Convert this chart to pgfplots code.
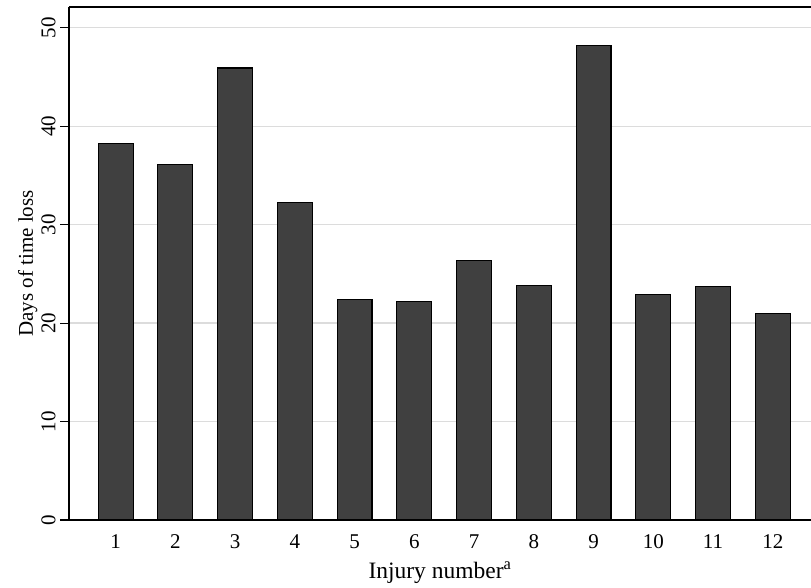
\documentclass[border=0pt]{standalone}
\usepackage{fontspec}
\setmainfont{Liberation Serif}
\usepackage{pgfplots}
\pgfplotsset{compat=1.18}
\definecolor{barfill}{HTML}{404040}
\definecolor{gridgray}{HTML}{DCDCDC}
\begin{document}
\begin{tikzpicture}
\begin{axis}[
  scale only axis,
  width=742pt, height=513pt,
  xmin=0.22, xmax=12.64,
  ymin=0, ymax=52.1,
  axis x line*=bottom,
  axis y line*=left,
  axis line style={line width=1.3pt, black},
  xtick={1,...,12},
  ytick={0,10,20,30,40,50},
  xtick style={draw=none},
  ytick style={line width=1.1pt, black},
  tick align=outside,
  major tick length=9pt,
  ymajorgrids,
  grid style={gridgray, line width=1.2pt},
  yticklabel style={rotate=90, anchor=south, font=\fontsize{21}{21}\selectfont},
  yticklabel shift=1pt,
  xticklabel style={font=\fontsize{21}{21}\selectfont, yshift=-2pt},
  /pgf/number format/assume math mode=true,
  xlabel={Injury number\textsuperscript{a}},
  ylabel={Days of time loss},
  xlabel style={font=\fontsize{23.5}{23.5}\selectfont, yshift=-6pt},
  ylabel style={font=\fontsize{21}{21}\selectfont, yshift=-3pt},
  ybar,
  bar width=0.585,
  clip=false,
]
\addplot[fill=barfill, draw=black, line width=1.1pt] coordinates {
 (1,38.2) (2,36.1) (3,45.9) (4,32.2) (5,22.4) (6,22.2)
 (7,26.4) (8,23.8) (9,48.2) (10,22.9) (11,23.7) (12,21.0)
};
\draw[line width=1.3pt, black] (rel axis cs:0,1) -- (rel axis cs:1,1);
\coordinate (ll) at (rel axis cs:0,0);
\coordinate (ur) at (rel axis cs:1,1);
\end{axis}
\pgfresetboundingbox
\path ([xshift=-69pt,yshift=-67pt]ll) rectangle ([yshift=7pt]ur);
\end{tikzpicture}
\end{document}
